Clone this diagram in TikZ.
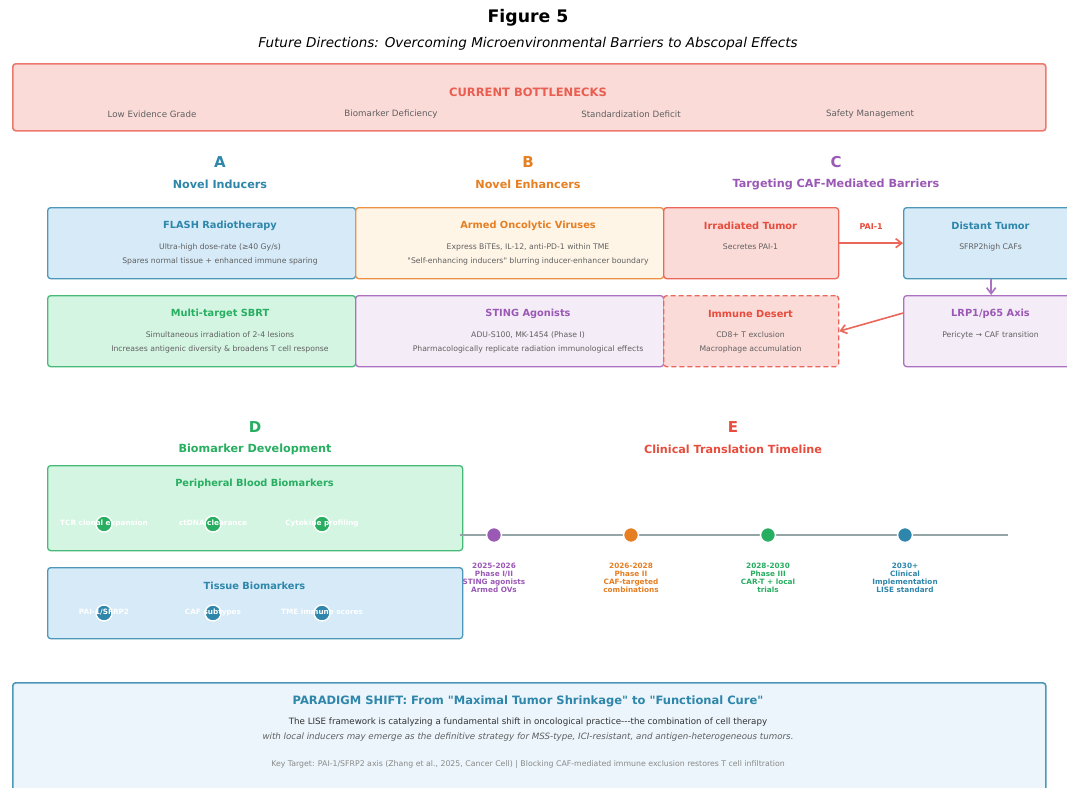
\documentclass[tikz,border=0pt]{standalone}
\usepackage{fontspec}
\setmainfont{DejaVu Sans}[Ligatures=TeXOff]
\usetikzlibrary{arrows.meta,calc}

\definecolor{cblue}{HTML}{2E86AB}
\definecolor{lblue}{HTML}{D6EAF8}
\definecolor{corange}{HTML}{E67E22}
\definecolor{lorange}{HTML}{FEF5E7}
\definecolor{cred}{HTML}{E74C3C}
\definecolor{lred}{HTML}{FADBD8}
\definecolor{cgreen}{HTML}{27AE60}
\definecolor{lgreen}{HTML}{D5F5E3}
\definecolor{cpurple}{HTML}{9B59B6}
\definecolor{lpurple}{HTML}{F4ECF7}
\definecolor{paleblue}{HTML}{EBF5FB}
\definecolor{bodygray}{HTML}{606060}
\definecolor{linegray}{HTML}{95A5A6}
\definecolor{keygray}{HTML}{8A8A8A}

\tikzset{
  panel/.style={draw, rounded corners=3, line width=1.3, inner sep=0, anchor=north west},
  ttl/.style={font=\bfseries\fontsize{9.8}{12}\selectfont},
  body/.style={font=\fontsize{7.7}{13.8}\selectfont, text=bodygray, align=center},
  hdrL/.style={font=\bfseries\fontsize{15}{18}\selectfont},
  hdrS/.style={font=\bfseries\fontsize{11.2}{13}\selectfont},
  flow/.style={line width=1.6, -{Straight Barb[length=6,width=9,line width=1.6]}},
  bdot/.style={circle, minimum size=16, inner sep=0, draw=white, line width=1.4},
  dotlbl/.style={font=\bfseries\fontsize{7.3}{8}\selectfont, text=white, text height=5.4pt, text depth=1.5pt, inner sep=0},
  tdot/.style={circle, minimum size=15, inner sep=0, draw=white, line width=1.5},
  tlab/.style={font=\bfseries\fontsize{7.3}{8.1}\selectfont, align=center},
}

\begin{document}
\begin{tikzpicture}[x=1pt,y=-1pt]
\useasboundingbox (0,0) rectangle (1067,787);
\fill[white] (0,0) rectangle (1067,787);
\path[clip] (0,0) rectangle (1067,787);

% title block
\node[font=\bfseries\fontsize{17.3}{20}\selectfont] (fig) at (528,17.5) {Figure 5};
\node[font=\itshape\fontsize{13.5}{15}\selectfont] (sub) at (528,44)
  {Future Directions: Overcoming Microenvironmental Barriers to Abscopal Effects};

% bottlenecks banner
\node[panel, draw=cred!75, fill=lred, line width=1.6, minimum width=1033, minimum height=67] (neck) at (12,63) {};
\node[font=\bfseries\fontsize{11.5}{13}\selectfont, text=cred!90] (neckT) at (528,92) {CURRENT BOTTLENECKS};
\foreach \x/\t [count=\i] in {152/Low Evidence Grade, 391/Biomarker Deficiency, 631/Standardization Deficit, 870/Safety Management}
  \node[font=\fontsize{8.7}{10}\selectfont, text=bodygray] (neck\i) at (\x,114) {\t};

% section headers A, B, C
\node[hdrL, text=cblue] (hA) at (220,162) {A};
\node[hdrS, text=cblue] (hAs) at (220,184) {Novel Inducers};
\node[hdrL, text=corange] (hB) at (528,162) {B};
\node[hdrS, text=corange] (hBs) at (528,184) {Novel Enhancers};
\node[hdrL, text=cpurple] (hC) at (836,162) {C};
\node[hdrS, text=cpurple] (hCs) at (836,184) {Targeting CAF-Mediated Barriers};

% row 1
\node[panel, draw=cblue!85, fill=lblue, minimum width=308, minimum height=71] (flash) at (47,207) {};
\node[panel, draw=corange!85, fill=lorange, minimum width=308, minimum height=71] (ov) at (355,207) {};
\node[panel, draw=cred!85, fill=lred, minimum width=175, minimum height=71] (irr) at (663,207) {};
\node[panel, draw=cblue!85, fill=lblue, minimum width=175, minimum height=71] (dist) at (903,207) {};

\node[ttl, text=cblue] (flashT) at (220,226) {FLASH Radiotherapy};
\node[body] (flashB) at (220,254) {Ultra-high dose-rate (≥40 Gy/s)\\Spares normal tissue + enhanced immune sparing};
\node[ttl, text=corange] (ovT) at (528,226) {Armed Oncolytic Viruses};
\node[body] (ovB) at (528,254) {Express BiTEs, IL-12, anti-PD-1 within TME\\"Self-enhancing inducers" blurring inducer-enhancer boundary};
\node[ttl, text=cred] (irrT) at (750.5,226) {Irradiated Tumor};
\node[body] (irrB) at (750.5,247) {Secretes PAI-1};
\node[ttl, text=cblue] (distT) at (990.5,226) {Distant Tumor};
\node[body] (distB) at (990.5,247) {SFRP2high CAFs};

% row 2
\node[panel, draw=cgreen!85, fill=lgreen, minimum width=308, minimum height=71] (sbrt) at (47,295) {};
\node[panel, draw=cpurple!85, fill=lpurple, minimum width=308, minimum height=71] (sting) at (355,295) {};
\node[panel, draw=cred!85, fill=lred, dash pattern=on 5pt off 3pt, minimum width=175, minimum height=71] (imm) at (663,295) {};
\node[panel, draw=cpurple!85, fill=lpurple, minimum width=175, minimum height=71] (lrp) at (903,295) {};

\node[ttl, text=cgreen] (sbrtT) at (220,314) {Multi-target SBRT};
\node[body] (sbrtB) at (220,342) {Simultaneous irradiation of 2-4 lesions\\Increases antigenic diversity \& broadens T cell response};
\node[ttl, text=cpurple] (stingT) at (528,314) {STING Agonists};
\node[body] (stingB) at (528,342) {ADU-S100, MK-1454 (Phase I)\\Pharmacologically replicate radiation immunological effects};
\node[ttl, text=cred] (immT) at (750.5,314) {Immune Desert};
\node[body] (immB) at (750.5,342) {CD8+ T exclusion\\Macrophage accumulation};
\node[ttl, text=cpurple] (lrpT) at (990.5,314) {LRP1/p65 Axis};
\node[body] (lrpB) at (990.5,335) {Pericyte → CAF transition};

% CAF signalling loop
\draw[flow, draw=cred!85] (irr.east) -- node[above=10pt, font=\bfseries\fontsize{8}{9}\selectfont, text=cred] (pai) {PAI-1} (dist.west);
\draw[flow, draw=cpurple!85] (dist.south) -- (lrp.north);
\draw[flow, draw=cred!85] ($(lrp.north west)!0.25!(lrp.south west)$) -- (imm.east);

% section headers D, E
\node[hdrL, text=cgreen] (hD) at (255,427) {D};
\node[hdrS, text=cgreen] (hDs) at (255,449) {Biomarker Development};
\node[hdrL, text=cred] (hE) at (733,427) {E};
\node[hdrS, text=cred] (hEs) at (733,449) {Clinical Translation Timeline};

% biomarker panels
\node[panel, draw=cgreen!85, fill=lgreen, minimum width=415, minimum height=85] (pbm) at (47,465) {};
\node[ttl, text=cgreen] (pbmT) at (254.5,484) {Peripheral Blood Biomarkers};
\node[bdot, fill=cgreen] (pb1) at (104,524) {};
\node[bdot, fill=cgreen] (pb2) at (213,524) {};
\node[bdot, fill=cgreen] (pb3) at (322,524) {};
\node[dotlbl] (pb1t) at (pb1) {TCR clonal expansion};
\node[dotlbl] (pb2t) at (pb2) {ctDNA clearance};
\node[dotlbl] (pb3t) at (pb3) {Cytokine profiling};

\node[panel, draw=cblue!85, fill=lblue, minimum width=415, minimum height=71] (tbm) at (47,567) {};
\node[ttl, text=cblue] (tbmT) at (254.5,586) {Tissue Biomarkers};
\node[bdot, fill=cblue] (tb1) at (104,613) {};
\node[bdot, fill=cblue] (tb2) at (213,613) {};
\node[bdot, fill=cblue] (tb3) at (322,613) {};
\node[dotlbl] (tb1t) at (tb1) {PAI-1/SFRP2};
\node[dotlbl] (tb2t) at (tb2) {CAF subtypes};
\node[dotlbl] (tb3t) at (tb3) {TME immune scores};

% timeline
\coordinate (tl0) at (460,535);
\coordinate (tl1) at (1008,535);
\draw[linegray, line width=1.6] (tl0) -- (tl1);
\node[tdot, fill=cpurple] (t1) at (494,535) {};
\node[tdot, fill=corange] (t2) at (631,535) {};
\node[tdot, fill=cgreen] (t3) at (768,535) {};
\node[tdot, fill=cblue] (t4) at (905,535) {};
\node[tlab, text=cpurple] (t1l) at (494,577.5) {2025-2026\\Phase I/II\\STING agonists\\Armed OVs};
\node[tlab, text=corange] (t2l) at (631,577.5) {2026-2028\\Phase II\\CAF-targeted\\combinations};
\node[tlab, text=cgreen] (t3l) at (768,577.5) {2028-2030\\Phase III\\CAR-T + local\\trials};
\node[tlab, text=cblue] (t4l) at (905,577.5) {2030+\\Clinical\\Implementation\\LISE standard};

% paradigm shift panel
\node[panel, draw=cblue!85, fill=paleblue, line width=1.6, minimum width=1033, minimum height=120] (para) at (12,682) {};
\node[font=\bfseries\fontsize{11.5}{13}\selectfont, text=cblue] (paraT) at (528,701)
  {PARADIGM SHIFT: From "Maximal Tumor Shrinkage" to "Functional Cure"};
\node[font=\fontsize{8.7}{10}\selectfont, text=black!80] (para1) at (528,722)
  {The LISE framework is catalyzing a fundamental shift in oncological practice---the combination of cell therapy};
\node[font=\itshape\fontsize{8.7}{10}\selectfont, text=bodygray] (para2) at (528,737)
  {with local inducers may emerge as the definitive strategy for MSS-type, ICI-resistant, and antigen-heterogeneous tumors.};
\node[font=\fontsize{7.8}{9}\selectfont, text=keygray] (para3) at (528,764)
  {Key Target: PAI-1/SFRP2 axis (Zhang et al., 2025, Cancer Cell) | Blocking CAF-mediated immune exclusion restores T cell infiltration};
\end{tikzpicture}
\end{document}
